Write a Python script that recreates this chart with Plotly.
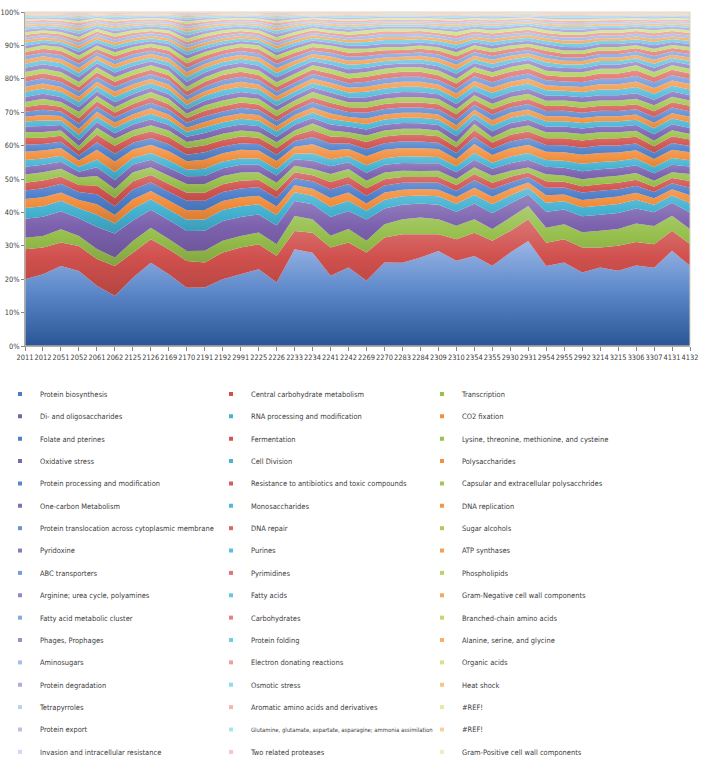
import plotly.graph_objects as go

categories = ["2011", "2012", "2051", "2052", "2061", "2062", "2125", "2126", "2169", "2170",
              "2191", "2192", "2991", "2225", "2226", "2233", "2234", "2241", "2242", "2269",
              "2270", "2283", "2284", "2309", "2310", "2354", "2355", "2930", "2931", "2954",
              "2955", "2992", "3214", "3215", "3306", "3307", "4131", "4132"]

series_names = [
    "Protein biosynthesis", "Central carbohydrate metabolism", "Transcription",
    "Di- and oligosaccharides", "RNA processing and modification", "CO2 fixation",
    "Folate and pterines", "Fermentation", "Lysine, threonine, methionine, and cysteine",
    "Oxidative stress", "Cell Division", "Polysaccharides",
    "Protein processing and modification", "Resistance to antibiotics and toxic compounds", "Capsular and extracellular polysacchrides",
    "One-carbon Metabolism", "Monosaccharides", "DNA replication",
    "Protein translocation across cytoplasmic membrane", "DNA repair", "Sugar alcohols",
    "Pyridoxine", "Purines", "ATP synthases",
    "ABC transporters", "Pyrimidines", "Phospholipids",
    "Arginine; urea cycle, polyamines", "Fatty acids", "Gram-Negative cell wall components",
    "Fatty acid metabolic cluster", "Carbohydrates", "Branched-chain amino acids",
    "Phages, Prophages", "Protein folding", "Alanine, serine, and glycine",
    "Aminosugars", "Electron donating reactions", "Organic acids",
    "Protein degradation", "Osmotic stress", "Heat shock",
    "Tetrapyrroles", "Aromatic amino acids and derivatives", "#REF!",
    "Protein export", "Glutamine, glutamate, aspartate, asparagine; ammonia assimilation", "#REF!",
    "Invasion and intracellular resistance", "Two related proteases", "Gram-Positive cell wall components",
]

# percentage of each subsystem per sample
protein_biosynthesis = [20, 21.5, 24, 22.5, 18, 15, 20.5, 25, 21.5, 17.5, 17.5, 20, 21.5, 23, 19, 29, 28, 21, 23.5, 19.5, 25, 25, 26.5, 28.5, 25.5, 27, 24, 28, 31.5, 24, 25, 22, 23.5, 22.5, 24, 23.5, 28.5, 24]
central_carbohydrate = [9, 8, 7, 7.5, 8, 9, 7.5, 7, 7.5, 8, 7.5, 8, 8, 7.5, 8, 5.5, 6, 8.5, 7.5, 8.5, 7.5, 8.5, 7, 5, 6.5, 7, 7.5, 6.5, 6.5, 7, 7, 7.5, 6, 7.5, 7, 7, 6, 6.5]
transcription = [3.5, 3.5, 4, 3, 3, 2.5, 3.5, 3.5, 3, 3, 3.5, 3.5, 3.5, 3.5, 3.5, 4.5, 4, 3.5, 4, 3.5, 4, 4.5, 5, 4.5, 4, 4, 3.5, 4, 4, 4.5, 4.5, 4.5, 5, 5, 5.5, 5.5, 4.5, 4.5]
di_oligosaccharides = [5.7, 5.7, 5.4, 5.3, 6.6, 7.2, 6.2, 5.4, 5.7, 6, 6, 5.9, 5.7, 5.4, 5.6, 4.5, 4.5, 5.6, 5.4, 6.4, 4.7, 4.4, 4.2, 4.4, 4.2, 4.7, 4.8, 4.2, 3.5, 4.8, 4.4, 4.8, 4.8, 4.8, 4.5, 4.1, 3.9, 5]
rna_processing = [3.2, 3.2, 3.1, 3, 3.7, 3.0, 3.5, 3.1, 3.2, 3.4, 3.4, 3.3, 3.2, 3.1, 3.1, 2.6, 2.6, 3.1, 3.1, 2.6, 2.6, 2.5, 2.4, 2.5, 2.4, 2.6, 2.7, 2.4, 2, 2.7, 2.5, 2.7, 2.7, 2.7, 2.6, 2.3, 2.2, 2.8]
co2_fixation = [2.7, 2.7, 2.5, 2.5, 3.1, 2.6, 2.9, 2.5, 2.7, 2.8, 2.8, 2.7, 2.7, 2.5, 2.6, 2.1, 2.1, 2.6, 2.5, 2.2, 2.2, 2, 2, 2, 2, 2.2, 2.2, 2, 1.6, 2.2, 2, 2.2, 2.2, 2.2, 2.1, 1.9, 1.8, 2.3]
folate_pterines = [2.6, 2.7, 2.6, 2.4, 3.0, 2.6, 2.9, 2.6, 2.6, 2.9, 2.8, 2.7, 2.6, 2.6, 2.5, 2.1, 2.2, 2.6, 2.5, 2.3, 2.1, 2.1, 1.9, 2.1, 1.9, 2.2, 2.3, 1.9, 1.6, 2.3, 2.1, 2.2, 2.3, 2.2, 2.1, 1.9, 1.8, 2.3]
fermentation = [2.3, 2.3, 2.2, 2.1, 2.6, 2.5, 2.5, 2.2, 2.3, 2.4, 2.4, 2.3, 2.3, 2.2, 2.2, 1.8, 1.8, 2.2, 2.2, 2.2, 1.9, 1.7, 1.7, 1.7, 1.7, 1.9, 1.9, 1.7, 1.4, 1.9, 1.7, 1.9, 1.9, 1.9, 1.8, 1.6, 1.6, 2]
lysine_threonine = [2.5, 2.5, 2.3, 2.3, 2.9, 2.7, 2.7, 2.3, 2.5, 2.6, 2.6, 2.5, 2.5, 2.3, 2.4, 2, 2, 2.4, 2.3, 2.3, 2, 1.9, 1.8, 1.9, 1.8, 2, 2.1, 1.8, 1.5, 2.1, 1.9, 2.1, 2.1, 2.1, 2, 1.8, 1.7, 2.1]
oxidative_stress = [2.3, 2.2, 2.1, 1.7, 2.6, 2.7, 2.3, 2.3, 2.4, 2.3, 2.4, 2.3, 2.3, 2.2, 2.2, 1.9, 2.4, 2.3, 2, 2.4, 2.3, 2.3, 2.3, 2.2, 2, 2.3, 2.1, 2.3, 2.3, 2.3, 2.3, 2.4, 2.4, 2.3, 2.3, 2.2, 2.3, 2.2]
cell_division = [2, 1.9, 1.8, 1.5, 2.3, 2.4, 2, 2, 2.2, 2, 2.2, 2, 2, 1.9, 1.9, 1.7, 2.2, 2.1, 1.8, 2.2, 2, 2, 2, 1.9, 1.8, 2.1, 1.8, 2, 2, 2, 2.1, 2.2, 2.2, 2.1, 2, 1.9, 2, 1.9]
polysaccharides = [2.5, 2.4, 2.3, 1.9, 2.9, 3, 2.5, 2.5, 2.7, 2.5, 2.7, 2.5, 2.5, 2.4, 2.4, 2.1, 2.7, 2.6, 2.2, 2.7, 2.5, 2.5, 2.5, 2.4, 2.2, 2.6, 2.3, 2.5, 2.5, 2.5, 2.6, 2.7, 2.7, 2.6, 2.5, 2.4, 2.5, 2.4]
protein_processing = [2.1, 1.9, 1.9, 1.5, 2.3, 2.4, 2.0, 2.0, 2.1, 2.0, 2.2, 2.0, 2.0, 1.9, 1.9, 1.7, 2.2, 2.1, 1.7, 2.2, 2.0, 2.0, 2.0, 1.9, 1.8, 2.1, 1.9, 2.0, 2.0, 2.0, 2.1, 2.1, 2.2, 2.1, 2.0, 1.9, 2.0, 1.9]
resistance_antibiotics = [2.0, 1.9, 1.8, 1.5, 2.3, 2.4, 2.0, 2.0, 2.2, 2.0, 2.1, 2.0, 2.0, 1.9, 2.0, 1.7, 2.1, 2.1, 1.8, 2.1, 2.0, 2.0, 2.0, 1.9, 1.7, 2.1, 1.8, 2.0, 2.0, 2.0, 2.1, 2.2, 2.1, 2.1, 2.0, 1.9, 2.0, 1.9]
capsular_polysaccharides = [1.8, 1.7, 1.6, 1.3, 2.0, 2.1, 1.8, 1.8, 1.9, 1.8, 1.9, 1.8, 1.8, 1.7, 1.7, 1.5, 1.9, 1.8, 1.5, 1.9, 1.8, 1.8, 1.8, 1.7, 1.5, 1.8, 1.6, 1.8, 1.8, 1.8, 1.8, 1.9, 1.9, 1.8, 1.8, 1.7, 1.8, 1.7]
one_carbon = [1.7, 1.8, 1.6, 1.8, 1.7, 1.7, 1.7, 1.8, 1.7, 1.6, 1.8, 1.8, 1.8, 1.8, 1.7, 1.7, 1.7, 1.8, 1.7, 1.8, 1.7, 1.7, 1.7, 1.7, 1.8, 1.6, 1.8, 1.7, 1.7, 1.7, 1.7, 1.7, 1.7, 1.7, 1.7, 1.9, 1.8, 1.8]
monosaccharides = [1.5, 1.7, 1.4, 1.7, 1.6, 1.6, 1.6, 1.7, 1.6, 1.4, 1.7, 1.7, 1.7, 1.7, 1.6, 1.5, 1.6, 1.7, 1.5, 1.7, 1.6, 1.6, 1.6, 1.6, 1.7, 1.4, 1.7, 1.6, 1.6, 1.6, 1.6, 1.6, 1.6, 1.6, 1.6, 1.8, 1.7, 1.7]
dna_replication = [1.4, 1.6, 1.3, 1.6, 1.5, 1.5, 1.5, 1.6, 1.5, 1.3, 1.6, 1.6, 1.6, 1.6, 1.5, 1.4, 1.5, 1.6, 1.4, 1.6, 1.5, 1.5, 1.5, 1.5, 1.6, 1.3, 1.6, 1.5, 1.5, 1.5, 1.5, 1.5, 1.5, 1.5, 1.5, 1.7, 1.6, 1.6]
protein_translocation = [1.5, 1.6, 1.4, 1.7, 1.6, 1.6, 1.6, 1.7, 1.6, 1.5, 1.7, 1.6, 1.7, 1.6, 1.6, 1.5, 1.6, 1.7, 1.5, 1.7, 1.6, 1.6, 1.6, 1.6, 1.7, 1.5, 1.7, 1.6, 1.6, 1.6, 1.6, 1.6, 1.6, 1.6, 1.6, 1.7, 1.7, 1.7]
dna_repair = [1.4, 1.6, 1.4, 1.6, 1.5, 1.5, 1.5, 1.6, 1.5, 1.4, 1.6, 1.6, 1.6, 1.6, 1.5, 1.4, 1.5, 1.5, 1.4, 1.6, 1.5, 1.5, 1.5, 1.5, 1.6, 1.4, 1.6, 1.5, 1.5, 1.5, 1.5, 1.5, 1.5, 1.5, 1.5, 1.7, 1.6, 1.6]
sugar_alcohols = [1.5, 1.7, 1.4, 1.8, 1.6, 1.6, 1.6, 1.6, 1.6, 1.3, 1.6, 1.7, 1.6, 1.7, 1.6, 1.5, 1.6, 1.7, 1.5, 1.6, 1.6, 1.6, 1.6, 1.6, 1.6, 1.4, 1.6, 1.6, 1.6, 1.6, 1.6, 1.6, 1.6, 1.6, 1.6, 1.8, 1.6, 1.6]
pyridoxine = [1.5, 1.5, 1.5, 1.5, 1.4, 1.5, 1.4, 1.3, 1.4, 1.3, 1.4, 1.5, 1.5, 1.4, 1.4, 1.3, 1.3, 1.4, 1.4, 1.5, 1.5, 1.5, 1.5, 1.4, 1.5, 1.4, 1.6, 1.5, 1.5, 1.5, 1.4, 1.5, 1.6, 1.6, 1.7, 1.7, 1.6, 1.6]
purines = [1.6, 1.6, 1.6, 1.6, 1.5, 1.6, 1.5, 1.4, 1.5, 1.4, 1.5, 1.6, 1.6, 1.5, 1.5, 1.4, 1.4, 1.5, 1.5, 1.6, 1.6, 1.6, 1.6, 1.5, 1.6, 1.5, 1.7, 1.6, 1.6, 1.6, 1.5, 1.6, 1.7, 1.7, 1.8, 1.8, 1.7, 1.7]
atp_synthases = [1.5, 1.5, 1.4, 1.5, 1.4, 1.5, 1.4, 1.3, 1.4, 1.3, 1.4, 1.5, 1.5, 1.4, 1.4, 1.3, 1.3, 1.4, 1.4, 1.5, 1.5, 1.5, 1.5, 1.4, 1.5, 1.4, 1.6, 1.5, 1.5, 1.5, 1.4, 1.5, 1.6, 1.6, 1.7, 1.7, 1.6, 1.6]
abc_transporters = [1.5, 1.5, 1.5, 1.5, 1.4, 1.5, 1.4, 1.4, 1.4, 1.3, 1.4, 1.5, 1.5, 1.4, 1.4, 1.3, 1.4, 1.4, 1.4, 1.5, 1.5, 1.5, 1.5, 1.4, 1.5, 1.4, 1.6, 1.5, 1.5, 1.5, 1.4, 1.5, 1.6, 1.6, 1.7, 1.7, 1.6, 1.6]
pyrimidines = [1.5, 1.5, 1.5, 1.4, 1.4, 1.5, 1.4, 1.3, 1.4, 1.4, 1.4, 1.5, 1.5, 1.4, 1.4, 1.4, 1.3, 1.4, 1.4, 1.5, 1.5, 1.5, 1.5, 1.4, 1.5, 1.4, 1.6, 1.5, 1.5, 1.5, 1.4, 1.5, 1.6, 1.6, 1.6, 1.6, 1.6, 1.6]
phospholipids = [1.4, 1.4, 1.5, 1.5, 1.5, 1.4, 1.4, 1.3, 1.4, 1.3, 1.4, 1.4, 1.4, 1.4, 1.4, 1.3, 1.3, 1.4, 1.4, 1.4, 1.4, 1.4, 1.4, 1.4, 1.4, 1.4, 1.4, 1.4, 1.4, 1.4, 1.4, 1.4, 1.4, 1.4, 1.5, 1.5, 1.4, 1.4]
arginine_urea = [1.3, 1.3, 1.4, 1.5, 1.2, 1.4, 1.3, 1.2, 1.3, 1.6, 1.4, 1.3, 1.3, 1.4, 1.5, 1.4, 1.2, 1.3, 1.4, 1.3, 1.2, 1.1, 1.2, 1.3, 1.5, 1.2, 1.3, 1.2, 1.1, 1.3, 1.2, 1.2, 1.2, 1.2, 1.1, 1.3, 1.1, 1.2]
fatty_acids = [1.2, 1.2, 1.3, 1.3, 1.1, 1.3, 1.2, 1.1, 1.2, 1.4, 1.3, 1.2, 1.2, 1.3, 1.3, 1.3, 1.1, 1.2, 1.3, 1.2, 1.1, 1.0, 1.1, 1.2, 1.3, 1.1, 1.2, 1.1, 1.0, 1.2, 1.1, 1.1, 1.1, 1.1, 1.0, 1.2, 1.0, 1.1]
gram_negative_wall = [1.2, 1.2, 1.2, 1.4, 1.1, 1.2, 1.2, 1.1, 1.2, 1.4, 1.2, 1.2, 1.2, 1.2, 1.4, 1.2, 1.1, 1.2, 1.2, 1.2, 1.1, 1.0, 1.1, 1.2, 1.4, 1.1, 1.2, 1.1, 1.0, 1.2, 1.1, 1.1, 1.1, 1.1, 1.0, 1.2, 1.0, 1.1]
fatty_acid_cluster = [1.1, 1.1, 1.2, 1.3, 1.0, 1.2, 1.1, 1.0, 1.1, 1.3, 1.2, 1.1, 1.1, 1.2, 1.3, 1.2, 1.0, 1.1, 1.2, 1.1, 1.0, 1.0, 1.0, 1.1, 1.3, 1.0, 1.1, 1.0, 1.0, 1.1, 1.0, 1.0, 1.0, 1.0, 1.0, 1.1, 1.0, 1.0]
carbohydrates = [1.2, 1.2, 1.3, 1.3, 1.1, 1.2, 1.2, 1.1, 1.2, 1.4, 1.3, 1.2, 1.2, 1.3, 1.3, 1.2, 1.1, 1.2, 1.2, 1.2, 1.1, 1.0, 1.1, 1.2, 1.3, 1.1, 1.2, 1.1, 1.0, 1.2, 1.1, 1.1, 1.1, 1.1, 1.0, 1.2, 1.0, 1.1]
branched_chain = [1.0, 1.0, 1.1, 1.2, 1.0, 1.2, 1.0, 1.0, 1.0, 1.4, 1.1, 1.0, 1.0, 1.1, 1.2, 1.2, 1.0, 1.0, 1.2, 1.0, 1.0, 0.9, 1.0, 1.0, 1.2, 1.0, 1.0, 1.0, 0.9, 1.0, 1.0, 1.0, 1.0, 1.0, 0.9, 1.0, 0.9, 1.0]
phages_prophages = [0.9, 0.8, 0.8, 1.0, 0.9, 1.0, 0.9, 0.8, 0.9, 1.1, 1.0, 0.9, 0.8, 0.8, 1.0, 0.9, 0.9, 0.8, 0.9, 1.0, 1.0, 1.0, 0.9, 0.9, 1.1, 0.9, 1.0, 0.9, 0.9, 0.9, 1.0, 1.0, 0.9, 0.9, 0.9, 1.0, 0.9, 0.9]
protein_folding = [0.9, 0.8, 0.8, 1.0, 0.9, 1.0, 0.9, 0.8, 0.9, 1.1, 1.0, 0.9, 0.8, 0.8, 1.0, 0.9, 0.8, 0.8, 0.9, 1.0, 1.1, 1.1, 1.0, 1.0, 1.1, 0.9, 1.0, 0.9, 0.9, 1.0, 1.1, 1.1, 1.0, 0.9, 0.9, 1.0, 0.9, 0.9]
alanine_serine_glycine = [0.8, 0.8, 0.7, 0.9, 0.8, 0.9, 0.8, 0.8, 0.8, 1.0, 0.9, 0.8, 0.8, 0.7, 0.9, 0.8, 0.8, 0.8, 0.8, 0.9, 0.9, 0.9, 0.8, 0.8, 1.0, 0.8, 0.9, 0.8, 0.8, 0.8, 0.9, 0.9, 0.8, 0.8, 0.8, 0.9, 0.8, 0.8]
aminosugars = [0.8, 0.7, 0.7, 0.9, 0.8, 0.9, 0.8, 0.7, 0.8, 0.9, 0.9, 0.8, 0.7, 0.7, 0.9, 0.8, 0.7, 0.7, 0.8, 0.9, 0.9, 0.9, 0.8, 0.8, 0.9, 0.8, 0.9, 0.8, 0.8, 0.8, 0.9, 0.9, 0.8, 0.8, 0.8, 0.9, 0.8, 0.8]
electron_donating = [0.8, 0.7, 0.8, 0.9, 0.8, 0.8, 0.8, 0.7, 0.8, 0.9, 0.8, 0.8, 0.7, 0.8, 0.8, 0.8, 0.8, 0.7, 0.8, 0.8, 0.8, 0.8, 0.8, 0.8, 0.9, 0.8, 0.8, 0.8, 0.8, 0.8, 0.8, 0.8, 0.8, 0.8, 0.8, 0.8, 0.8, 0.8]
organic_acids = [0.8, 0.7, 0.7, 0.8, 0.8, 0.9, 0.8, 0.7, 0.8, 1.0, 0.9, 0.8, 0.7, 0.7, 0.9, 0.8, 0.7, 0.7, 0.8, 0.9, 0.8, 0.8, 0.7, 0.8, 1.0, 0.8, 0.9, 0.8, 0.8, 0.8, 0.8, 0.8, 0.7, 0.8, 0.7, 0.9, 0.7, 0.8]
protein_degradation = [0.8, 0.7, 0.8, 1.0, 0.65, 0.85, 0.7, 0.65, 0.7, 1.05, 0.85, 0.7, 0.65, 0.7, 1.0, 0.8, 0.6, 0.7, 0.8, 0.7, 0.65, 0.65, 0.65, 0.7, 0.8, 0.65, 0.7, 0.65, 0.6, 0.7, 0.8, 0.8, 0.7, 0.7, 0.65, 0.7, 0.65, 0.7]
osmotic_stress = [0.72, 0.66, 0.72, 0.9, 0.6, 0.78, 0.66, 0.6, 0.66, 0.96, 0.78, 0.66, 0.6, 0.66, 0.9, 0.72, 0.58, 0.66, 0.72, 0.66, 0.6, 0.6, 0.6, 0.66, 0.72, 0.6, 0.66, 0.6, 0.54, 0.66, 0.72, 0.72, 0.66, 0.66, 0.6, 0.66, 0.6, 0.66]
heat_shock = [0.66, 0.6, 0.66, 0.83, 0.55, 0.72, 0.6, 0.55, 0.6, 0.88, 0.72, 0.6, 0.55, 0.6, 0.83, 0.66, 0.53, 0.6, 0.66, 0.6, 0.55, 0.55, 0.55, 0.6, 0.66, 0.55, 0.6, 0.55, 0.5, 0.6, 0.66, 0.66, 0.6, 0.6, 0.55, 0.6, 0.55, 0.6]
tetrapyrroles = [0.6, 0.55, 0.6, 0.75, 0.5, 0.65, 0.55, 0.5, 0.55, 0.8, 0.65, 0.55, 0.5, 0.55, 0.75, 0.6, 0.48, 0.55, 0.6, 0.55, 0.5, 0.5, 0.5, 0.55, 0.6, 0.5, 0.55, 0.5, 0.45, 0.55, 0.6, 0.6, 0.55, 0.55, 0.5, 0.55, 0.5, 0.55]
aromatic_amino_acids = [0.62, 0.55, 0.58, 0.75, 0.52, 0.65, 0.55, 0.5, 0.56, 0.8, 0.64, 0.55, 0.5, 0.55, 0.74, 0.6, 0.48, 0.56, 0.6, 0.55, 0.5, 0.5, 0.52, 0.55, 0.6, 0.5, 0.56, 0.5, 0.45, 0.55, 0.6, 0.6, 0.55, 0.56, 0.5, 0.55, 0.5, 0.55]
ref_error_1 = [0.48, 0.44, 0.48, 0.6, 0.4, 0.52, 0.44, 0.4, 0.44, 0.64, 0.52, 0.44, 0.4, 0.44, 0.6, 0.48, 0.38, 0.44, 0.48, 0.44, 0.4, 0.4, 0.4, 0.44, 0.48, 0.4, 0.44, 0.4, 0.36, 0.44, 0.48, 0.48, 0.44, 0.44, 0.4, 0.44, 0.4, 0.44]
protein_export = [0.47, 0.45, 0.48, 0.6, 0.41, 0.52, 0.44, 0.4, 0.45, 0.63, 0.52, 0.43, 0.4, 0.45, 0.6, 0.48, 0.38, 0.44, 0.47, 0.44, 0.4, 0.41, 0.4, 0.44, 0.48, 0.4, 0.45, 0.4, 0.36, 0.44, 0.48, 0.49, 0.44, 0.44, 0.4, 0.44, 0.41, 0.44]
glutamine_glutamate = [0.48, 0.44, 0.47, 0.6, 0.4, 0.53, 0.44, 0.4, 0.44, 0.65, 0.52, 0.44, 0.41, 0.44, 0.61, 0.48, 0.39, 0.44, 0.48, 0.45, 0.4, 0.4, 0.41, 0.44, 0.48, 0.4, 0.44, 0.41, 0.37, 0.44, 0.48, 0.48, 0.45, 0.44, 0.4, 0.45, 0.4, 0.44]
ref_error_2 = [0.36, 0.33, 0.36, 0.45, 0.3, 0.39, 0.33, 0.3, 0.33, 0.48, 0.39, 0.33, 0.3, 0.33, 0.45, 0.36, 0.29, 0.33, 0.36, 0.33, 0.3, 0.3, 0.3, 0.33, 0.36, 0.3, 0.33, 0.3, 0.27, 0.33, 0.36, 0.36, 0.33, 0.33, 0.3, 0.33, 0.3, 0.33]
invasion_resistance = [0.3, 0.28, 0.3, 0.38, 0.25, 0.33, 0.28, 0.25, 0.28, 0.4, 0.33, 0.28, 0.25, 0.28, 0.38, 0.3, 0.24, 0.28, 0.3, 0.28, 0.25, 0.25, 0.25, 0.28, 0.3, 0.25, 0.28, 0.25, 0.23, 0.28, 0.3, 0.3, 0.28, 0.28, 0.25, 0.28, 0.25, 0.28]
two_related_proteases = [0.31, 0.27, 0.3, 0.37, 0.26, 0.33, 0.28, 0.25, 0.27, 0.4, 0.32, 0.28, 0.25, 0.27, 0.38, 0.3, 0.24, 0.28, 0.31, 0.28, 0.25, 0.26, 0.25, 0.27, 0.3, 0.25, 0.28, 0.25, 0.22, 0.28, 0.3, 0.31, 0.28, 0.27, 0.25, 0.28, 0.25, 0.28]
gram_positive_wall = [0.24, 0.22, 0.24, 0.3, 0.2, 0.26, 0.22, 0.2, 0.22, 0.32, 0.26, 0.22, 0.2, 0.22, 0.3, 0.24, 0.19, 0.22, 0.24, 0.22, 0.2, 0.2, 0.2, 0.22, 0.24, 0.2, 0.22, 0.2, 0.18, 0.22, 0.24, 0.24, 0.22, 0.22, 0.2, 0.22, 0.2, 0.22]

series_values = [
    protein_biosynthesis, central_carbohydrate, transcription,
    di_oligosaccharides, rna_processing, co2_fixation,
    folate_pterines, fermentation, lysine_threonine,
    oxidative_stress, cell_division, polysaccharides,
    protein_processing, resistance_antibiotics, capsular_polysaccharides,
    one_carbon, monosaccharides, dna_replication,
    protein_translocation, dna_repair, sugar_alcohols,
    pyridoxine, purines, atp_synthases,
    abc_transporters, pyrimidines, phospholipids,
    arginine_urea, fatty_acids, gram_negative_wall,
    fatty_acid_cluster, carbohydrates, branched_chain,
    phages_prophages, protein_folding, alanine_serine_glycine,
    aminosugars, electron_donating, organic_acids,
    protein_degradation, osmotic_stress, heat_shock,
    tetrapyrroles, aromatic_amino_acids, ref_error_1,
    protein_export, glutamine_glutamate, ref_error_2,
    invasion_resistance, two_related_proteases, gram_positive_wall,
]
assert len(series_values) == len(series_names) == 51
for v in series_values:
    assert len(v) == len(categories), len(v)

# ---- styling ----
BASE = ["#4A7CC8", "#D0504D", "#96BF4C", "#7C62AE", "#45B2D2", "#F28E3E"]
LIGHT_TARGET = ["#A9C4F2", "#F2A09C", "#D6EC84", "#B6A8E6", "#8EDCF2", "#F8C282"]
TINT = [0.0, 0.06, 0.16, 0.32, 0.48, 0.62, 0.74, 0.84, 0.92]
WHITEN = [0, 0, 0, 0, 0, 0, 0.18, 0.32, 0.45]


def hex2rgb(h):
    h = h.lstrip("#")
    return tuple(int(h[i:i + 2], 16) for i in (0, 2, 4))


def mix(h, other, t):
    a = hex2rgb(h)
    b = hex2rgb(other)
    return "#%02X%02X%02X" % tuple(round(a[i] + (b[i] - a[i]) * t) for i in range(3))


colors = []
for k in range(51):
    hue, cyc = k % 6, k // 6
    c = mix(BASE[hue], LIGHT_TARGET[hue], TINT[cyc])
    c = mix(c, "#FFFFFF", WHITEN[cyc])
    colors.append(c)

FONT = "Liberation Sans Narrow, DejaVu Sans Condensed, Arial Narrow, Liberation Sans, sans-serif"

fig = go.Figure()
for k, (name, vals) in enumerate(zip(series_names, series_values)):
    c = colors[k]
    if k == 0:
        scale = [[0, "#2A5595"], [0.5, "#5A86C8"], [1, "#9AB6E6"]]
    else:
        scale = [[0, mix(c, "#000000", 0.14)], [0.5, c], [1, mix(c, "#FFFFFF", 0.22)]]
    fig.add_trace(go.Scatter(
        x=categories, y=vals, name=name,
        stackgroup="all", groupnorm="percent" if k == 0 else None,
        mode="none", fillcolor=c,
        fillgradient=dict(type="vertical", colorscale=scale),
        showlegend=False, hoverinfo="skip",
    ))

# legend entries (small square swatches)
for k, name in enumerate(series_names):
    label = name
    if len(name) > 55:
        label = '<span style="font-size:5.9px">' + name + '</span>'
    fig.add_trace(go.Scatter(
        x=[None], y=[None], mode="markers", name=label + "<br>\u00a0",
        marker=dict(symbol="square", size=4, color=colors[k]),
        hoverinfo="skip", showlegend=True,
    ))

fig.update_layout(
    width=708, height=764,
    margin=dict(l=25, r=18, t=12, b=418, autoexpand=False),
    paper_bgcolor="white", plot_bgcolor="white",
    font=dict(family=FONT, size=9, color="#404040"),
    showlegend=True,
    legend=dict(
        orientation="h", x=-25 / 665, xanchor="left", y=-0.1096, yanchor="top",
        entrywidth=166, entrywidthmode="pixels", valign="top", traceorder="normal",
        font=dict(family=FONT, size=7.45, color="#404040"),
        bgcolor="rgba(0,0,0,0)", tracegroupgap=0, itemsizing="trace",
        maxheight=420,
    ),
)
fig.update_xaxes(
    type="category", categoryorder="array", categoryarray=categories,
    range=[0, len(categories) - 1], tickangle=0,
    ticks="outside", ticklen=4, tickcolor="#868686",
    showline=True, linecolor="#868686", showgrid=False, zeroline=False,
    tickfont=dict(size=7.4, color="#404040"),
)
fig.update_yaxes(
    range=[0, 100], dtick=10, ticksuffix="%",
    ticks="outside", ticklen=3, tickcolor="#868686",
    showline=True, linecolor="#868686", showgrid=False, zeroline=False,
    tickfont=dict(size=7.4, color="#404040"),
)
fig.add_shape(type="rect", xref="paper", yref="paper", x0=0, x1=1, y0=0, y1=1,
              line=dict(color="#D9D4C3", width=1), layer="above")

fig.write_html("out.html", config={"displayModeBar": False},
               post_script="document.body.style.margin='0px';")
